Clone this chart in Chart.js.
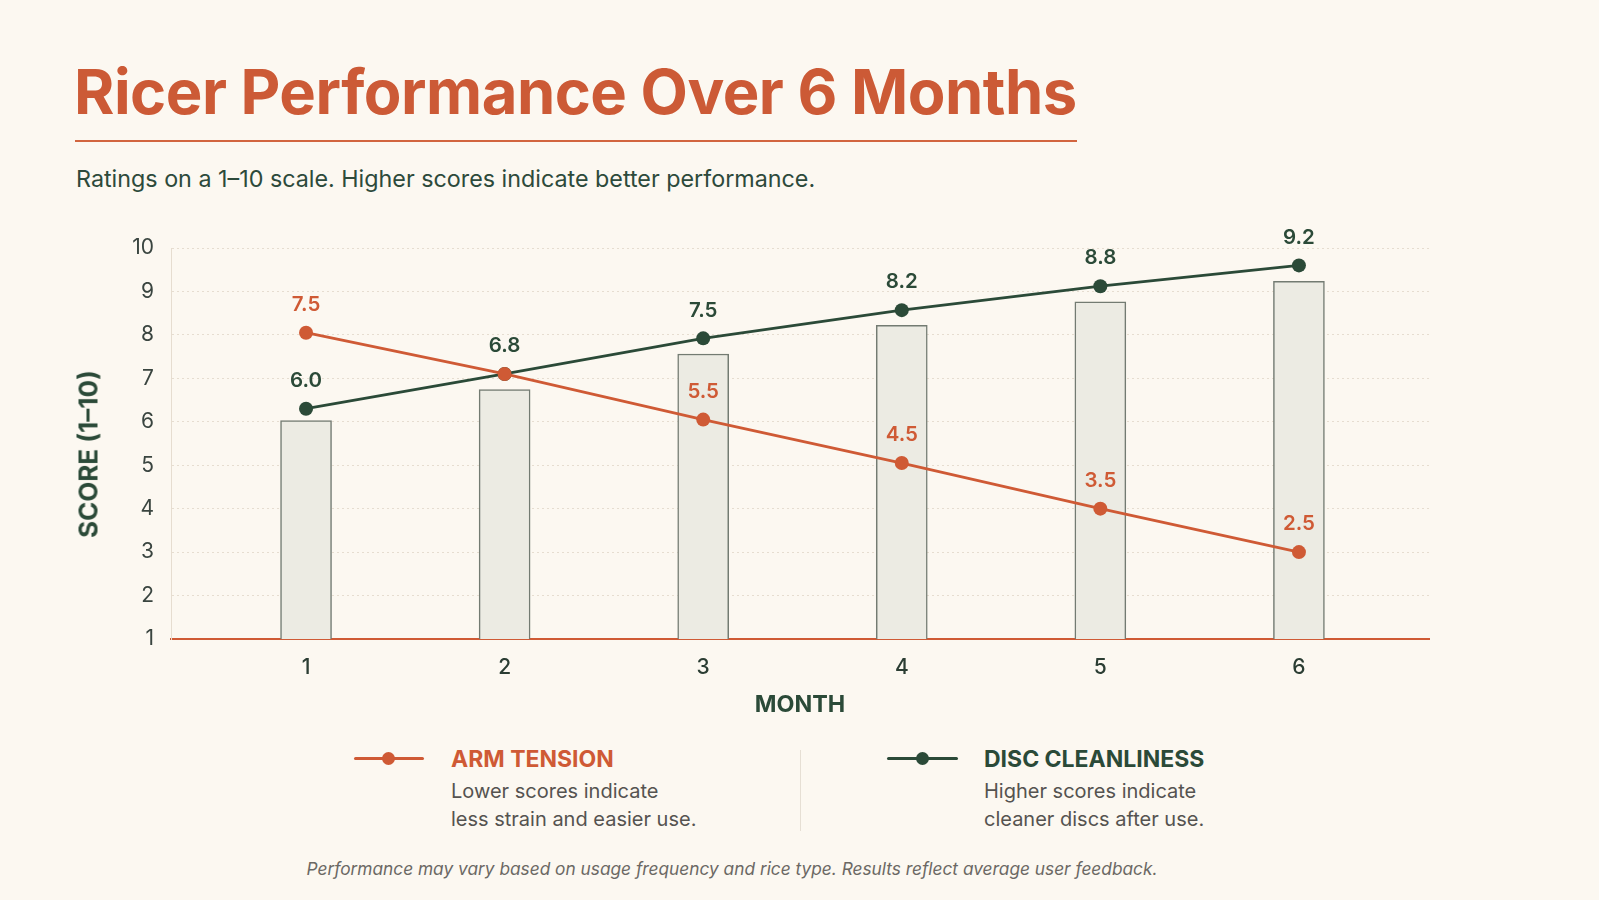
<!DOCTYPE html>
<html>
<head>
<meta charset="utf-8">
<title>Ricer Performance Over 6 Months</title>
<script src="https://cdn.jsdelivr.net/npm/chart.js@4.4.1/dist/chart.umd.min.js"></script>
<style>
  body{ margin:0; background:#fcf8f1; font-family:Inter, "Noto Sans", sans-serif; }
  #page{ position:relative; width:1599px; height:900px; overflow:hidden; background:#fcf8f1; }
  .abs{ position:absolute; white-space:nowrap; }
  #title{ left:74px; top:60px; font-size:61.5px; line-height:64px; font-weight:700; color:#cc5a36; letter-spacing:-0.5px; }
  #rule{ left:75px; top:140px; width:1002px; height:2px; background:#d2653f; }
  #subtitle{ left:76px; top:165px; font-size:23.3px; line-height:28px; color:#2d4a3b; }
  #chartBox{ position:absolute; left:0; top:200px; width:1599px; height:520px; }
  #yTitle{ left:88px; top:454px; font-size:26px; font-weight:700; color:#2b4a38; transform:translate(-50%,-50%) rotate(-90deg); }
  #xTitle{ left:800px; top:703px; font-size:23.3px; font-weight:700; color:#2b4a38; transform:translate(-50%,-50%); }
  .lgLine{ position:absolute; height:3px; border-radius:2px; }
  .lgDot{ position:absolute; width:13px; height:13px; border-radius:50%; }
  .lgHead{ font-size:23px; line-height:26px; font-weight:700; }
  .lgDesc{ font-size:20px; line-height:28px; color:#555350; }
  #divider{ left:800px; top:750px; width:1px; height:81px; background:#e6dfd4; }
  #foot{ left:732px; top:868px; transform:translate(-50%,-50%); font-size:17.3px; font-style:italic; color:#6b6864; }
</style>
</head>
<body>
<div id="page">
  <div class="abs" id="title">Ricer Performance Over 6 Months</div>
  <div class="abs" id="rule"></div>
  <div class="abs" id="subtitle">Ratings on a 1–10 scale. Higher scores indicate better performance.</div>

  <div id="chartBox"><canvas id="ricerChart"></canvas></div>
  <div class="abs" id="yTitle">SCORE (1–10)</div>
  <div class="abs" id="xTitle">MONTH</div>

  <!-- legenda -->
  <div class="lgLine" style="left:354px;top:757px;width:70px;background:#cf5a35"></div>
  <div class="lgDot" style="left:382px;top:752px;background:#cf5a35"></div>
  <div class="abs lgHead" style="left:451px;top:746px;color:#cf5a35">ARM TENSION</div>
  <div class="abs lgDesc" style="left:451px;top:777px">Lower scores indicate<br>less strain and easier use.</div>

  <div class="abs" id="divider"></div>

  <div class="lgLine" style="left:887px;top:757px;width:71px;background:#2b4a38"></div>
  <div class="lgDot" style="left:916px;top:752px;background:#2b4a38"></div>
  <div class="abs lgHead" style="left:984px;top:746px;color:#2b4a38">DISC CLEANLINESS</div>
  <div class="abs lgDesc" style="left:984px;top:777px">Higher scores indicate<br>cleaner discs after use.</div>

  <div class="abs" id="foot">Performance may vary based on usage frequency and rice type. Results reflect average user feedback.</div>
</div>

<script>
(function(){
  'use strict';

  // datos
  const months = [1, 2, 3, 4, 5, 6];
  const armTension = [8.05, 7.1, 6.05, 5.05, 4.0, 3.0];
  const discCleanliness = [6.3, 7.1, 7.92, 8.57, 9.12, 9.6];
  const discBars = [6.03, 6.74, 7.56, 8.22, 8.76, 9.23];
  const armLabels = ['7.5', '', '5.5', '4.5', '3.5', '2.5'];
  const discLabels = ['6.0', '6.8', '7.5', '8.2', '8.8', '9.2'];
  const yTicks = [1, 2, 3, 4, 5, 6, 7, 8, 9, 10];

  const ORANGE = '#cf5a35';
  const GREEN = '#2b4a38';

  function xy(vals){ return months.map((m, i) => ({ x: m, y: vals[i] })); }

  // etiquetas de valor sobre los puntos
  const valueLabels = {
    id: 'valueLabels',
    afterDatasetsDraw(chart){
      const ctx = chart.ctx;
      chart.data.datasets.forEach((ds, i) => {
        if(!ds.valueText) return;
        const meta = chart.getDatasetMeta(i);
        ctx.save();
        ctx.font = '600 20.5px Inter, "Noto Sans", sans-serif';
        ctx.fillStyle = ds.borderColor;
        ctx.textAlign = 'center';
        ctx.textBaseline = 'middle';
        meta.data.forEach((pt, j) => {
          const t = ds.valueText[j];
          if(t) ctx.fillText(t, pt.x, pt.y - 28);
        });
        ctx.restore();
      });
    }
  };

  const ctx = document.getElementById('ricerChart');
  new Chart(ctx, {
    data: {
      datasets: [
        {
          type: 'line', label: 'Arm Tension', data: xy(armTension), valueText: armLabels,
          borderColor: ORANGE, backgroundColor: ORANGE, borderWidth: 2.8,
          pointRadius: 7, pointBorderWidth: 0, pointBackgroundColor: ORANGE, order: 0
        },
        {
          type: 'line', label: 'Disc Cleanliness', data: xy(discCleanliness), valueText: discLabels,
          borderColor: GREEN, backgroundColor: GREEN, borderWidth: 2.8,
          pointRadius: 7, pointBorderWidth: 0, pointBackgroundColor: GREEN, order: 1
        },
        {
          type: 'bar', label: 'Disc', data: xy(discBars),
          backgroundColor: '#ecebe3', borderColor: '#737b72', borderWidth: 1.5,
          barThickness: 51, order: 2
        }
      ]
    },
    options: {
      responsive: true,
      maintainAspectRatio: false,
      animation: false,
      layout: { padding: { top: 48, right: 170, bottom: 0, left: 0 } },
      plugins: { legend: { display: false }, tooltip: { enabled: false } },
      scales: {
        x: {
          type: 'linear', min: 0.32, max: 6.655, offset: false,
          afterBuildTicks: s => { s.ticks = months.map(v => ({ value: v })); },
          afterFit: s => { s.height = 81; },
          grid: { display: false },
          border: { display: true, color: ORANGE, width: 2 },
          ticks: { padding: 8, color: '#2b3d33', font: { size: 21, weight: 500, family: 'Inter' } }
        },
        y: {
          min: 1, max: 10,
          afterBuildTicks: s => { s.ticks = yTicks.map(v => ({ value: v })); },
          afterFit: s => { s.width = 171; },
          grid: { color: '#e6ddd0', lineWidth: 1, drawTicks: false },
          border: { display: true, color: '#e6ddd0', width: 1, dash: [2, 3] },
          ticks: { padding: 17, color: '#3a4540', font: { size: 21, family: 'Inter' } }
        }
      }
    },
    plugins: [valueLabels]
  });
})();
</script>
</body>
</html>
